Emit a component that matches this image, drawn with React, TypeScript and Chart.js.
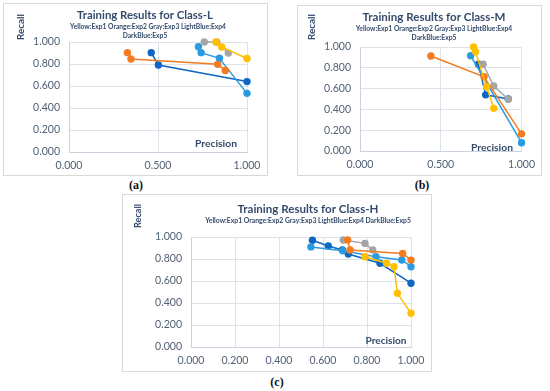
import React, { useEffect, useRef } from "react";
import { Chart, registerables } from "chart.js";
Chart.register(...registerables);

// ---------- data ----------
const seriesLabels = ["Exp1", "Exp2", "Exp3", "Exp4", "Exp5"];

// Class-L
const L_exp1_x = [0.826, 0.858, 1.0];
const L_exp1_y = [1.0, 0.955, 0.85];
const L_exp2_x = [0.328, 0.348, 0.835, 0.878];
const L_exp2_y = [0.903, 0.845, 0.797, 0.742];
const L_exp3_x = [0.76, 0.83, 0.895];
const L_exp3_y = [1.0, 1.0, 0.9];
const L_exp4_x = [0.727, 0.742, 0.845, 1.0];
const L_exp4_y = [0.957, 0.903, 0.852, 0.533];
const L_exp5_x = [0.462, 0.502, 1.0];
const L_exp5_y = [0.903, 0.791, 0.64];

// Class-M
const M_exp1_x = [0.703, 0.715, 0.784, 0.828];
const M_exp1_y = [1.0, 0.955, 0.618, 0.41];
const M_exp2_x = [0.439, 0.768, 1.0];
const M_exp2_y = [0.913, 0.714, 0.165];
const M_exp3_x = [0.762, 0.828, 0.918];
const M_exp3_y = [0.834, 0.625, 0.497];
const M_exp4_x = [0.685, 1.0];
const M_exp4_y = [0.917, 0.08];
const M_exp5_x = [0.733, 0.778, 0.918];
const M_exp5_y = [0.834, 0.54, 0.5];

// Class-H
const H_exp1_x = [0.791, 0.889, 0.923, 0.938, 1.0];
const H_exp1_y = [0.821, 0.761, 0.73, 0.488, 0.307];
const H_exp2_x = [0.712, 0.723, 0.962, 1.0];
const H_exp2_y = [0.973, 0.882, 0.851, 0.79];
const H_exp3_x = [0.692, 0.791, 0.826];
const H_exp3_y = [0.973, 0.942, 0.882];
const H_exp4_x = [0.545, 0.69, 0.841, 0.958, 1.0];
const H_exp4_y = [0.91, 0.875, 0.821, 0.791, 0.73];
const H_exp5_x = [0.552, 0.624, 0.688, 0.715, 0.859, 1.0];
const H_exp5_y = [0.97, 0.918, 0.882, 0.845, 0.761, 0.58];

const titleL = "Training Results for Class-L";
const titleM = "Training Results for Class-M";
const titleH = "Training Results for Class-H";
const subtitleLine1 = "Yellow:Exp1 Orange:Exp2 Gray:Exp3 LightBlue:Exp4";
const subtitleLine2 = "DarkBlue:Exp5";
const subtitleFull = "Yellow:Exp1 Orange:Exp2 Gray:Exp3 LightBlue:Exp4 DarkBlue:Exp5";
const yAxisName = "Recall";
const xAxisName = "Precision";

// ---------- styles ----------
const COLORS = ["#FFC000", "#F47B20", "#A5A5A5", "#2A9BE0", "#0F67C4"];
const FONT = "Lato, 'Open Sans', sans-serif";
const TITLE_COLOR = "#344B6B";
const TICK_COLOR = "#536176";
const GRID_COLOR = "#DDE3EB";
const AXIS_COLOR = "#C9D2DE";

const pts = (xs: number[], ys: number[]) => xs.map((x, i) => ({ x, y: ys[i] }));

// font size that makes `text` span `width` pixels
function fitSize(ctx: CanvasRenderingContext2D, text: string, width: number, weight: string) {
  ctx.font = `${weight} 20px ${FONT}`;
  const m = ctx.measureText(text).width || 1;
  return (20 * width) / m;
}

const textPlugin = {
  id: "panelText",
  afterDraw(chart: any, _args: any, opts: any) {
    const ctx = chart.ctx;
    for (const t of opts.items || []) {
      ctx.save();
      const weight = t.weight || "bold";
      const size = fitSize(ctx, t.fitText || t.text, t.width, weight);
      ctx.font = `${weight} ${size}px ${FONT}`;
      ctx.fillStyle = t.color || TITLE_COLOR;
      ctx.textAlign = "center";
      ctx.textBaseline = "middle";
      ctx.translate(t.x, t.y);
      if (t.rotate) ctx.rotate(t.rotate);
      ctx.fillText(t.text, 0, 0);
      ctx.restore();
    }
  },
};

type PanelCfg = {
  left: number; top: number; w: number; h: number;
  area: { l: number; r: number; t: number; b: number };
  xStep: number;
  series: { x: number[]; y: number[] }[];
  texts: any[];
};

const Y_W = 45;
const X_H = 22;

function Panel({ cfg }: { cfg: PanelCfg }) {
  const ref = useRef<HTMLCanvasElement | null>(null);
  useEffect(() => {
    if (!ref.current) return;
    const mctx = ref.current.getContext("2d") as CanvasRenderingContext2D;
    const tickSize = fitSize(mctx, "0.000", 27, "normal");
    const tickFont = { family: FONT, size: tickSize };
    const chart = new Chart(ref.current, {
      type: "scatter",
      data: {
        datasets: cfg.series.map((s, i) => ({
          label: seriesLabels[i],
          data: pts(s.x, s.y),
          showLine: true,
          borderColor: COLORS[i],
          backgroundColor: COLORS[i],
          pointBackgroundColor: COLORS[i],
          pointBorderColor: COLORS[i],
          pointBorderWidth: 0,
          pointRadius: 3.7,
          borderWidth: 1.5,
          clip: false,
        })),
      },
      options: {
        responsive: false,
        animation: false,
        events: [],
        layout: {
          padding: {
            left: cfg.area.l - Y_W,
            right: cfg.w - cfg.area.r,
            top: cfg.area.t,
            bottom: cfg.h - cfg.area.b - X_H,
          },
        },
        plugins: {
          legend: { display: false },
          tooltip: { enabled: false },
          title: { display: false },
          panelText: { items: cfg.texts },
        } as any,
        scales: {
          x: {
            type: "linear",
            min: 0,
            max: 1,
            ticks: {
              stepSize: cfg.xStep,
              callback: (v: any) => Number(v).toFixed(3),
              font: tickFont,
              color: TICK_COLOR,
              padding: 7,
              maxRotation: 0,
              autoSkip: false,
            },
            grid: { color: GRID_COLOR, drawTicks: false, lineWidth: 1 },
            border: { color: AXIS_COLOR },
            afterFit: (s: any) => { s.height = X_H; },
          },
          y: {
            type: "linear",
            min: 0,
            max: 1,
            ticks: {
              stepSize: 0.2,
              callback: (v: any) => Number(v).toFixed(3),
              font: tickFont,
              color: TICK_COLOR,
              padding: 9,
            },
            grid: { color: GRID_COLOR, drawTicks: false, lineWidth: 1 },
            border: { color: AXIS_COLOR },
            afterFit: (s: any) => { s.width = Y_W; },
          },
        },
      } as any,
      plugins: [textPlugin as any],
    });
    return () => chart.destroy();
  }, [cfg]);
  return (
    <>
      <div
        style={{
          position: "absolute",
          left: cfg.left,
          top: cfg.top,
          width: cfg.w,
          height: cfg.h,
          border: "1px solid #D9D9D9",
          boxSizing: "border-box",
        }}
      />
      <canvas
        ref={ref}
        width={cfg.w}
        height={cfg.h}
        style={{ position: "absolute", left: cfg.left, top: cfg.top, width: cfg.w, height: cfg.h }}
      />
    </>
  );
}

const panelA: PanelCfg = {
  left: 3, top: 3, w: 265, h: 173,
  area: { l: 66, r: 244, t: 39, b: 149 },
  xStep: 0.5,
  series: [
    { x: L_exp1_x, y: L_exp1_y },
    { x: L_exp2_x, y: L_exp2_y },
    { x: L_exp3_x, y: L_exp3_y },
    { x: L_exp4_x, y: L_exp4_y },
    { x: L_exp5_x, y: L_exp5_y },
  ],
  texts: [
    { text: titleL, x: 142, y: 12, width: 136 },
    { text: subtitleLine1, x: 145, y: 24, width: 156 },
    { text: subtitleLine2, fitText: subtitleLine1, x: 142, y: 33, width: 156 },
    { text: yAxisName, x: 18, y: 24, width: 26, rotate: -Math.PI / 2 },
    { text: xAxisName, x: 213, y: 141, width: 42 },
  ],
};

const panelB: PanelCfg = {
  left: 297, top: 5, w: 245, h: 171,
  area: { l: 63, r: 230, t: 42, b: 146 },
  xStep: 0.5,
  series: [
    { x: M_exp1_x, y: M_exp1_y },
    { x: M_exp2_x, y: M_exp2_y },
    { x: M_exp3_x, y: M_exp3_y },
    { x: M_exp4_x, y: M_exp4_y },
    { x: M_exp5_x, y: M_exp5_y },
  ],
  texts: [
    { text: titleM, x: 137, y: 12, width: 143 },
    { text: subtitleLine1, x: 137, y: 24, width: 157 },
    { text: subtitleLine2, fitText: subtitleLine1, x: 137, y: 33, width: 157 },
    { text: yAxisName, x: 15, y: 22, width: 26, rotate: -Math.PI / 2 },
    { text: xAxisName, x: 195, y: 143, width: 42 },
  ],
};

const panelC: PanelCfg = {
  left: 122, top: 194, w: 310, h: 178,
  area: { l: 69, r: 289, t: 43, b: 153 },
  xStep: 0.2,
  series: [
    { x: H_exp1_x, y: H_exp1_y },
    { x: H_exp2_x, y: H_exp2_y },
    { x: H_exp3_x, y: H_exp3_y },
    { x: H_exp4_x, y: H_exp4_y },
    { x: H_exp5_x, y: H_exp5_y },
  ],
  texts: [
    { text: titleH, x: 186, y: 15, width: 141 },
    { text: subtitleFull, x: 186, y: 27, width: 206 },
    { text: yAxisName, x: 16, y: 22, width: 24, rotate: -Math.PI / 2 },
    { text: xAxisName, x: 264, y: 147, width: 41 },
  ],
};

const captionStyle = (x: number, y: number): React.CSSProperties => ({
  position: "absolute",
  left: x,
  top: y,
  transform: "translate(-50%, -50%)",
  fontFamily: "'Liberation Serif', 'DejaVu Serif', serif",
  fontWeight: "bold",
  fontSize: 12,
  color: "#111",
  whiteSpace: "nowrap",
});

export default function App() {
  return (
    <div
      style={{
        position: "absolute",
        left: 0,
        top: 0,
        width: 550,
        height: 391,
        background: "#fff",
        overflow: "hidden",
      }}
    >
      <Panel cfg={panelA} />
      <Panel cfg={panelB} />
      <Panel cfg={panelC} />
      <div style={captionStyle(136, 185)}>(a)</div>
      <div style={captionStyle(422, 185)}>(b)</div>
      <div style={captionStyle(277, 382)}>(c)</div>
    </div>
  );
}
